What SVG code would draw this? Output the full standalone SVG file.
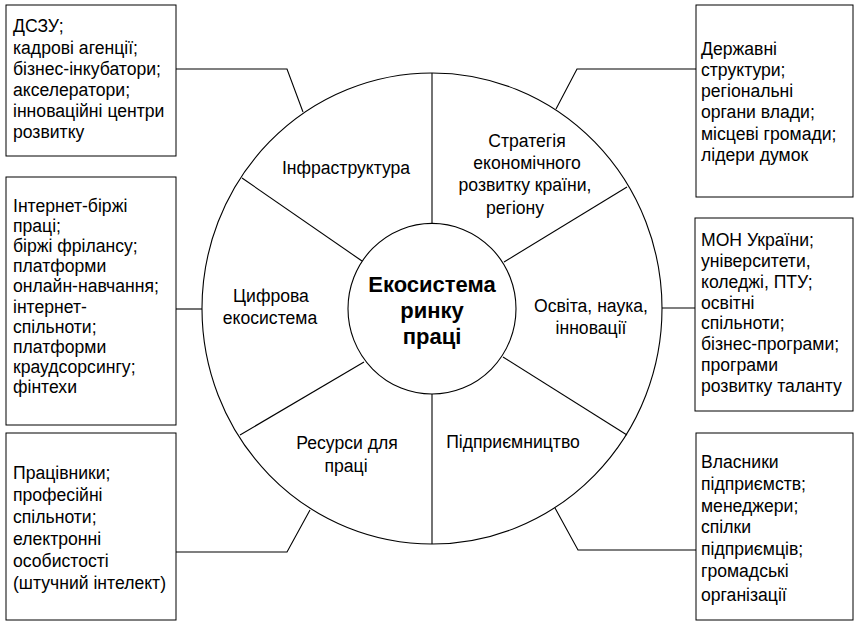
<svg xmlns="http://www.w3.org/2000/svg" width="855" height="624" viewBox="0 0 855 624">
<style>
text{font-family:"Liberation Sans",Arial,sans-serif;font-size:17.6px;fill:#000}
.c{text-anchor:middle}
.b{font-weight:bold;font-size:22px}
.box{fill:#fff;stroke:#000;stroke-width:1}
.ln{fill:none;stroke:#000;stroke-width:1.1}
</style>
<rect width="855" height="624" fill="#fff"/>
<g id="ring">
<ellipse class="ln" cx="432" cy="308.5" rx="230" ry="235.5"/>
<line class="ln" x1="432" y1="73" x2="432" y2="223.5"/>
<line class="ln" x1="432" y1="394" x2="432" y2="544"/>
<line class="ln" x1="242" y1="178" x2="362" y2="261"/>
<line class="ln" x1="627" y1="187" x2="504" y2="262"/>
<line class="ln" x1="240" y1="435" x2="364" y2="362"/>
<line class="ln" x1="627" y1="435" x2="503" y2="357"/>
<ellipse class="ln" cx="432" cy="308.7" rx="84" ry="85.3" fill="#fff"/>
</g>
<g id="center">
<text class="c b" x="432" y="292">Екосистема</text>
<text class="c b" x="432" y="318">ринку</text>
<text class="c b" x="432" y="344">праці</text>
</g>
<g id="sector-infra"><text class="c" x="346" y="174">Інфраструктура</text></g>
<g id="sector-strategy">
<text class="c" x="527" y="147">Стратегія</text>
<text class="c" x="527" y="169">економічного</text>
<text class="c" x="525" y="191">розвитку країни,</text>
<text class="c" x="515" y="214">регіону</text>
</g>
<g id="sector-digital">
<text class="c" x="271" y="302">Цифрова</text>
<text class="c" x="270" y="324">екосистема</text>
</g>
<g id="sector-education">
<text class="c" x="591" y="312">Освіта, наука,</text>
<text class="c" x="591" y="334">інновації</text>
</g>
<g id="sector-resources">
<text class="c" x="347" y="449">Ресурси для</text>
<text class="c" x="346" y="472">праці</text>
</g>
<g id="sector-business"><text class="c" x="513" y="448">Підприємництво</text></g>
<g id="connectors">
<polyline class="ln" points="176,69 287,69 303,112"/>
<polyline class="ln" points="696,69 577,69 556,109"/>
<line class="ln" x1="176" y1="309" x2="202" y2="309"/>
<line class="ln" x1="662" y1="308" x2="695" y2="308"/>
<polyline class="ln" points="176,552 287,552 310,510"/>
<polyline class="ln" points="696,550 578,550 555,508"/>
</g>
<g id="box-infra">
<rect class="box" x="6" y="5" width="170" height="151"/>
<text x="13" y="32">ДСЗУ;</text>
<text x="13" y="54">кадрові агенції;</text>
<text x="13" y="75">бізнес-інкубатори;</text>
<text x="13" y="96">акселератори;</text>
<text x="13" y="117">інноваційні центри</text>
<text x="13" y="138">розвитку</text>
</g>
<g id="box-strategy">
<rect class="box" x="696" y="5" width="157" height="192"/>
<text x="701" y="55">Державні</text>
<text x="701" y="76">структури;</text>
<text x="701" y="97">регіональні</text>
<text x="701" y="118">органи влади;</text>
<text x="701" y="140">місцеві громади;</text>
<text x="701" y="161">лідери думок</text>
</g>
<g id="box-digital">
<rect class="box" x="6" y="177" width="170" height="248"/>
<text x="13" y="211.5">Інтернет-біржі</text>
<text x="13" y="231.7">праці;</text>
<text x="13" y="251.9">біржі фрілансу;</text>
<text x="13" y="272.1">платформи</text>
<text x="13" y="292.3">онлайн-навчання;</text>
<text x="13" y="312.5">інтернет-</text>
<text x="13" y="332.7">спільноти;</text>
<text x="13" y="352.9">платформи</text>
<text x="13" y="373.1">краудсорсингу;</text>
<text x="13" y="393.3">фінтехи</text>
</g>
<g id="box-education">
<rect class="box" x="695" y="218" width="158" height="193"/>
<text x="701" y="246">МОН України;</text>
<text x="701" y="267">університети,</text>
<text x="701" y="288">коледжі, ПТУ;</text>
<text x="701" y="309">освітні</text>
<text x="701" y="329">спільноти;</text>
<text x="701" y="350">бізнес-програми;</text>
<text x="701" y="371">програми</text>
<text x="701" y="392">розвитку таланту</text>
</g>
<g id="box-resources">
<rect class="box" x="6" y="433" width="170" height="187"/>
<text x="13" y="479">Працівники;</text>
<text x="13" y="501">професійні</text>
<text x="13" y="523">спільноти;</text>
<text x="13" y="545">електронні</text>
<text x="13" y="567">особистості</text>
<text x="13" y="589">(штучний інтелект)</text>
</g>
<g id="box-business">
<rect class="box" x="696" y="433" width="157" height="187"/>
<text x="701" y="468">Власники</text>
<text x="701" y="490">підприємств;</text>
<text x="701" y="512">менеджери;</text>
<text x="701" y="533">спілки</text>
<text x="701" y="555">підприємців;</text>
<text x="701" y="577">громадські</text>
<text x="701" y="601">організації</text>
</g>
</svg>
